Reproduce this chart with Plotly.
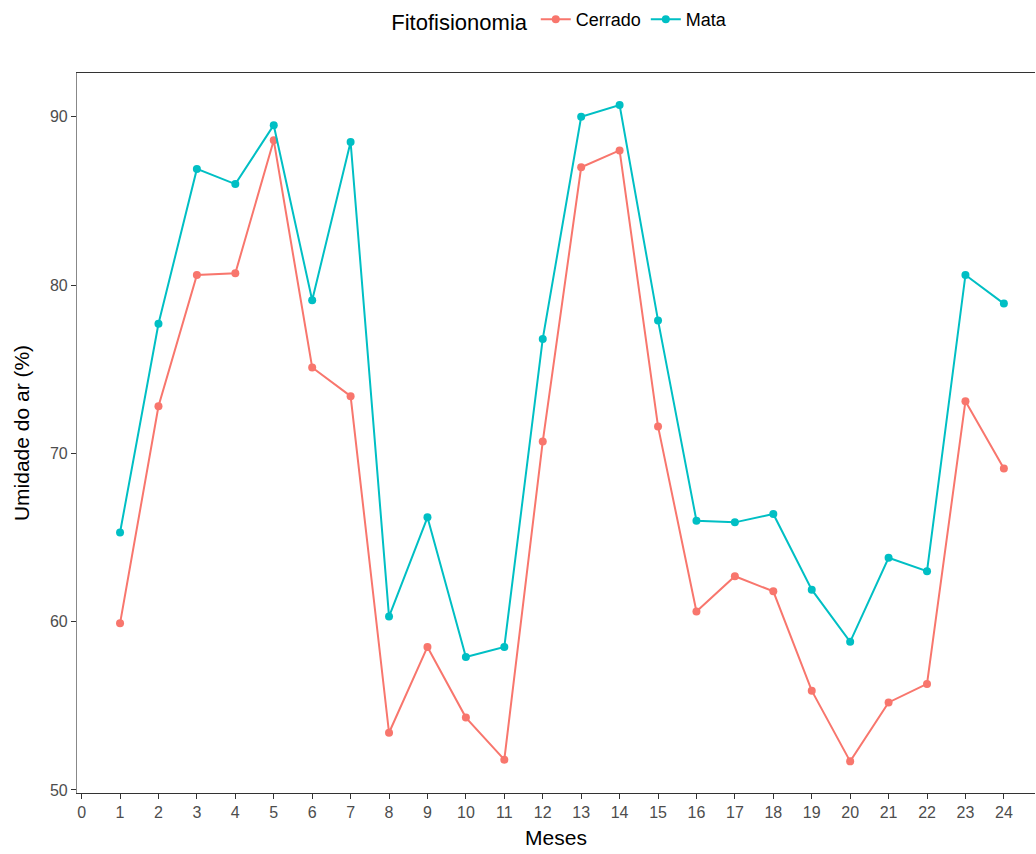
import plotly.graph_objects as go

# Monthly mean air humidity (%) by vegetation type
meses = list(range(1, 25))
cerrado = [59.9, 72.8, 80.6, 80.7, 88.6, 75.1, 73.4, 53.4, 58.5, 54.3, 51.8, 70.7,
           87.0, 88.0, 71.6, 60.6, 62.7, 61.8, 55.9, 51.7, 55.2, 56.3, 73.1, 69.1]
mata = [65.3, 77.7, 86.9, 86.0, 89.5, 79.1, 88.5, 60.3, 66.2, 57.9, 58.5, 76.8,
        90.0, 90.7, 77.9, 66.0, 65.9, 66.4, 61.9, 58.8, 63.8, 63.0, 80.6, 78.9]
x_ticks = list(range(0, 25))
y_ticks = [50, 60, 70, 80, 90]

series = [("Cerrado", cerrado, "#F8766D"), ("Mata", mata, "#00BFC4")]

fig = go.Figure()
for name, vals, color in series:
    fig.add_trace(go.Scatter(
        x=meses, y=vals, name=name, mode="lines+markers",
        line=dict(color=color, width=2),
        marker=dict(color=color, size=8),
    ))

font_family = "Liberation Sans, Arial, sans-serif"

fig.update_layout(
    width=1036, height=854,
    margin=dict(l=77, r=1, t=71, b=61),
    plot_bgcolor="white", paper_bgcolor="white",
    font=dict(family=font_family, color="black"),
    showlegend=True,
    legend=dict(
        orientation="h", x=0.505, xanchor="center", y=1.073, yanchor="middle",
        title=dict(text="Fitofisionomia", side="left", font=dict(size=22, color="black")),
        font=dict(size=18, color="black"), itemwidth=30, tracegroupgap=0,
    ),
    xaxis=dict(
        range=[-0.12, 24.81], tickmode="array", tickvals=x_ticks,
        ticktext=[str(t) for t in x_ticks],
        showgrid=False, zeroline=False,
        showline=True, linecolor="#333333", linewidth=1.2, mirror=True,
        ticks="outside", ticklen=5, tickwidth=1.2, tickcolor="#333333",
        tickfont=dict(size=16, color="#4D4D4D"),
        title=dict(text="Meses", font=dict(size=21, color="black"), standoff=10),
    ),
    yaxis=dict(
        range=[49.82, 92.6], tickmode="array", tickvals=y_ticks,
        showgrid=False, zeroline=False,
        showline=True, linecolor="#888888", linewidth=1.2,
        ticks="outside", ticklen=5, tickwidth=1.2, tickcolor="#333333",
        tickfont=dict(size=16, color="#4D4D4D"),
        title=dict(text="Umidade do ar (%)", font=dict(size=21, color="black"), standoff=14),
    ),
)

fig.write_html("out.html")
